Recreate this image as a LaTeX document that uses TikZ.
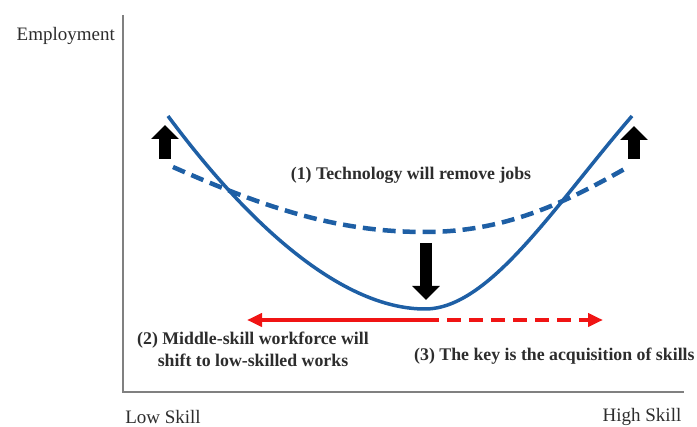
\documentclass[tikz,border=0pt]{standalone}
\usepackage{fontspec}
\setmainfont{Liberation Serif}
\usetikzlibrary{arrows.meta}
\definecolor{curveBlue}{RGB}{30,95,165}
\definecolor{axisGray}{RGB}{128,128,128}
\definecolor{textGray}{RGB}{45,45,45}
\definecolor{shiftRed}{RGB}{240,20,20}
\tikzstyle{axisLine}=[draw = axisGray, line width = 2pt]
\tikzstyle{axisLabel}=[text = textGray, font = \fontsize{19}{22}\selectfont, inner sep = 0pt]
\tikzstyle{noteLabel}=[text = textGray, font = \fontsize{17.8}{22}\selectfont\bfseries, inner sep = 0pt, align = center]
\tikzstyle{bigArrow}=[line width = 12pt, -{Triangle[width = 27pt, length = 14pt]}]
\tikzstyle{redArrow}=[shiftRed, line width = 4pt, -{Triangle[width = 13pt, length = 15pt]}]

\begin{document}
\begin{tikzpicture}[x = 1pt, y = -1pt]
\useasboundingbox (0,0) rectangle (697,427);
\tikzstyle{solidCurve}=[curveBlue, line width = 3.5pt]
\tikzstyle{dashedCurve}=[curveBlue, line width = 4.5pt, dash pattern = on 13pt off 7pt]
\coordinate (yTop) at (123,15);
\coordinate (origin) at (123,392);
\coordinate (xEnd) at (684,392);
\draw[axisLine] (yTop) -- (origin) -- (xEnd);
\node[axisLabel, anchor = east] (employment) at (115,36) {Employment};
\node[axisLabel] (lowSkill) at (163,417) {Low Skill};
\node[axisLabel] (highSkill) at (642,417) {High Skill};
\coordinate (s1) at (168,116);
\coordinate (s2) at (425,309);
\coordinate (s3) at (632,116);
\draw[solidCurve] (s1) .. controls (260,240) and (350,309) .. (s2) .. controls (490,309) and (555,205) .. (s3);
\coordinate (d1) at (173,167);
\coordinate (d2) at (425,232);
\coordinate (d3) at (628,167);
\draw[dashedCurve] (d1) .. controls (270,210) and (340,232) .. (d2) .. controls (505,232) and (565,203) .. (d3);
\coordinate (upLeftFrom) at (165,159);
\coordinate (upLeftTo) at (165,125);
\coordinate (upRightFrom) at (634,159);
\coordinate (upRightTo) at (634,126);
\coordinate (downFrom) at (426,243);
\coordinate (downTo) at (426,300);
\draw[bigArrow] (upLeftFrom) -- (upLeftTo);
\draw[bigArrow] (upRightFrom) -- (upRightTo);
\draw[bigArrow] (downFrom) -- (downTo);
\coordinate (split) at (425,320);
\coordinate (lowTip) at (247,320);
\coordinate (highTip) at (603,320);
\draw[redArrow] (split) -- (lowTip);
\draw[redArrow, dash pattern = on 14pt off 8pt] (split) -- (highTip);
\node[noteLabel] (tech) at (411,175) {(1) Technology will remove jobs};
\node[noteLabel] (middle) at (253,349) {(2) Middle-skill workforce will\\shift to low-skilled works};
\node[noteLabel, anchor = west] (key) at (414,356) {(3) The key is the acquisition of skills};
\end{tikzpicture}
\end{document}
